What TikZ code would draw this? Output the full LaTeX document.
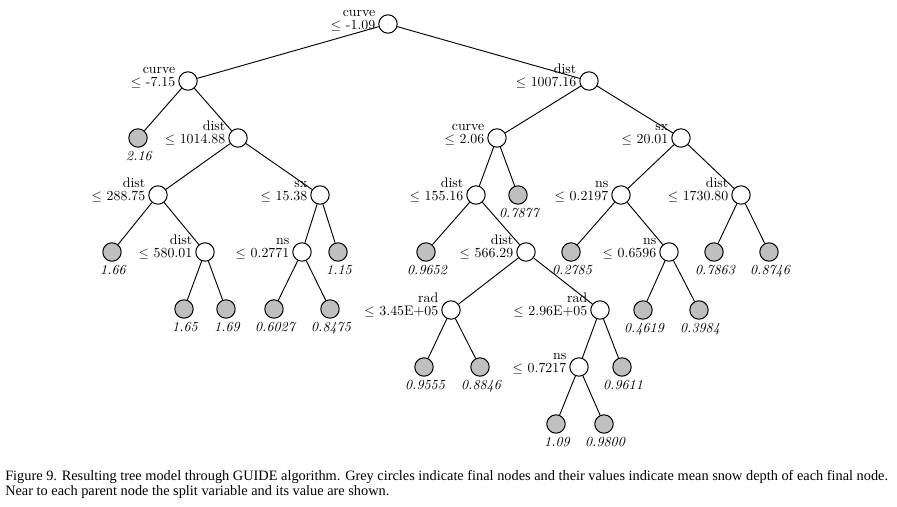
\documentclass[tikz,border=0pt]{standalone}
\usepackage{fontspec}
\newfontfamily\capfont{Liberation Serif}
\usetikzlibrary{calc}
\newcommand\splitlab[3]{%
  \node[lbl,anchor=base east] (#1v) at ($(#1)+(-12.5,5)$) {\(\leq\) #3};
  \node[lbl,anchor=base east] (#1n) at ($(#1)+(-12.5,-8)$) {#2};}
\newcommand\leafval[2]{%
  \node[lbl,anchor=base] (#1t) at ($(#1)+(1,22)$) {\itshape #2};}
\begin{document}
\begin{tikzpicture}[x=0.75pt,y=-0.75pt,
  pnode/.style={circle,draw,line width=0.75pt,fill=white,minimum size=13.8pt,inner sep=0pt},
  leaf/.style={circle,draw,line width=0.75pt,fill=leafgray,minimum size=13.8pt,inner sep=0pt},
  lbl/.style={inner sep=0pt,font=\fontsize{10.4}{12}\selectfont},
  captext/.style={anchor=base west,inner sep=0pt,font=\capfont\fontsize{10.75}{11.25}\selectfont},
  edge/.style={line width=0.7pt}]
\definecolor{leafgray}{RGB}{191,191,191}
\useasboundingbox (0,0) rectangle (897,507);
% parent nodes
\node[pnode] (r) at (388,24) {};
\node[pnode] (a) at (188,81) {};
\node[pnode] (b) at (589,81) {};
\node[pnode] (c) at (238,138) {};
\node[pnode] (d) at (497,138) {};
\node[pnode] (e) at (681,138) {};
\node[pnode] (f) at (158,195) {};
\node[pnode] (g) at (320,195) {};
\node[pnode] (h) at (476,195) {};
\node[pnode] (i) at (621,195) {};
\node[pnode] (j) at (741,195) {};
\node[pnode] (k) at (205,252) {};
\node[pnode] (m) at (302,252) {};
\node[pnode] (n) at (526,252) {};
\node[pnode] (o) at (669,252) {};
\node[pnode] (p) at (451,310) {};
\node[pnode] (q) at (600,310) {};
\node[pnode] (s) at (579,367) {};
% leaves
\node[leaf] (l216) at (138,138) {};
\node[leaf] (l7877) at (518,195) {};
\node[leaf] (l166) at (112,252) {};
\node[leaf] (l115) at (338,252) {};
\node[leaf] (l9652) at (426,252) {};
\node[leaf] (l2785) at (571,252) {};
\node[leaf] (l7863) at (714,252) {};
\node[leaf] (l8746) at (769,252) {};
\node[leaf] (l165) at (184,309) {};
\node[leaf] (l169) at (226,309) {};
\node[leaf] (l6027) at (274,309) {};
\node[leaf] (l8475) at (330,309) {};
\node[leaf] (l4619) at (643,310) {};
\node[leaf] (l3984) at (699,310) {};
\node[leaf] (l9555) at (424,367) {};
\node[leaf] (l8846) at (480,367) {};
\node[leaf] (l9611) at (622,367) {};
\node[leaf] (l109) at (556,424) {};
\node[leaf] (l9800) at (604,424) {};
% edges
\foreach \u/\v in {r/a,r/b,a/l216,a/c,c/f,c/g,f/l166,f/k,k/l165,k/l169,g/m,g/l115,m/l6027,m/l8475,
  b/d,b/e,d/h,d/l7877,h/l9652,h/n,n/p,n/q,p/l9555,p/l8846,q/s,q/l9611,s/l109,s/l9800,
  e/i,e/j,i/l2785,i/o,o/l4619,o/l3984,j/l7863,j/l8746}
  \draw[edge] (\u) -- (\v);
% split labels
\splitlab{r}{curve}{-1.09}
\splitlab{a}{curve}{-7.15}
\splitlab{b}{dist}{1007.16}
\splitlab{c}{dist}{1014.88}
\splitlab{d}{curve}{2.06}
\splitlab{e}{sx}{20.01}
\splitlab{f}{dist}{288.75}
\splitlab{g}{sx}{15.38}
\splitlab{h}{dist}{155.16}
\splitlab{i}{ns}{0.2197}
\splitlab{j}{dist}{1730.80}
\splitlab{k}{dist}{580.01}
\splitlab{m}{ns}{0.2771}
\splitlab{n}{dist}{566.29}
\splitlab{o}{ns}{0.6596}
\splitlab{p}{rad}{3.45E+05}
\splitlab{q}{rad}{2.96E+05}
\splitlab{s}{ns}{0.7217}
% leaf values
\leafval{l216}{2.16}
\leafval{l7877}{0.7877}
\leafval{l166}{1.66}
\leafval{l115}{1.15}
\leafval{l9652}{0.9652}
\leafval{l2785}{0.2785}
\leafval{l7863}{0.7863}
\leafval{l8746}{0.8746}
\leafval{l165}{1.65}
\leafval{l169}{1.69}
\leafval{l6027}{0.6027}
\leafval{l8475}{0.8475}
\leafval{l4619}{0.4619}
\leafval{l3984}{0.3984}
\leafval{l9555}{0.9555}
\leafval{l8846}{0.8846}
\leafval{l9611}{0.9611}
\leafval{l109}{1.09}
\leafval{l9800}{0.9800}
% caption
\node[captext] (cap1) at (5,480)
  {Figure 9. Resulting tree model through GUIDE algorithm. Grey circles indicate final nodes and their values indicate mean snow depth of each final node.};
\node[captext] (cap2) at (5,495)
  {Near to each parent node the split variable and its value are shown.};
\end{tikzpicture}
\end{document}
